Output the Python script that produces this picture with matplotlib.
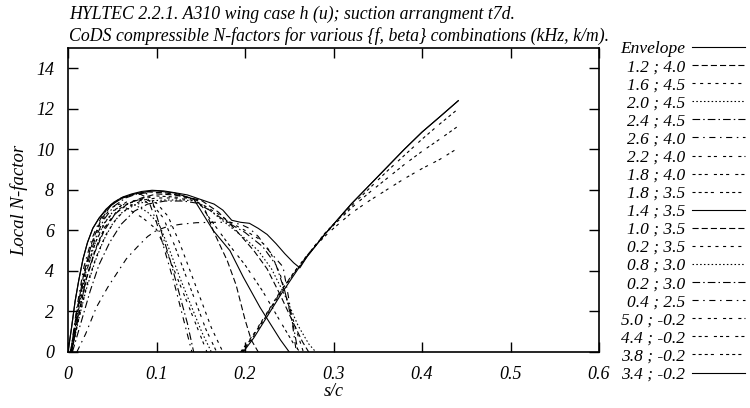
import matplotlib
matplotlib.use('Agg')
import matplotlib.pyplot as plt

plt.rcParams['font.family'] = ['Liberation Serif', 'DejaVu Serif']
plt.rcParams['font.style'] = 'italic'
plt.rcParams['lines.scale_dashes'] = False

# N-factor curves: (s/c, N)
env_s = [0, 0.004, 0.008, 0.012, 0.017, 0.022, 0.028, 0.035, 0.043, 0.052, 0.062, 0.072,
         0.083, 0.095, 0.108, 0.122, 0.135, 0.145, 0.155, 0.165, 0.175, 0.185, 0.195,
         0.205, 0.215, 0.225, 0.235, 0.245, 0.255, 0.262, 0.27, 0.28, 0.29, 0.3, 0.31,
         0.32, 0.34, 0.36, 0.38, 0.4, 0.42, 0.441]
env_n = [0, 1.2, 2.5, 3.5, 4.6, 5.4, 6.1, 6.6, 7.05, 7.4, 7.65, 7.8,
         7.92, 7.98, 7.95, 7.85, 7.75, 7.6, 7.45, 7.3, 7.0, 6.5, 6.4,
         6.35, 6.1, 5.8, 5.35, 4.85, 4.4, 4.15, 4.7, 5.25, 5.8, 6.3, 6.8,
         7.3, 8.2, 9.1, 10.0, 10.85, 11.6, 12.4]

f12_b40_s = [0.003, 0.01, 0.018, 0.027, 0.037, 0.048, 0.06, 0.075, 0.09, 0.11, 0.13, 0.145,
             0.155, 0.165, 0.18, 0.19, 0.2, 0.207, 0.215]
f12_b40_n = [0, 2.0, 3.9, 5.4, 6.5, 7.2, 7.6, 7.8, 7.9, 7.85, 7.7, 7.5,
             7.0, 5.9, 4.5, 3.3, 1.6, 0.6, 0]

f16_b45_s = [0.004, 0.013, 0.022, 0.033, 0.044, 0.056, 0.07, 0.085, 0.1, 0.113, 0.126,
             0.138, 0.15, 0.162, 0.175]
f16_b45_n = [0, 2.0, 3.8, 5.3, 6.3, 7.0, 7.4, 7.55, 7.35, 6.7, 5.4, 4.0, 2.6, 1.2, 0]

f20_b45_s = [0.003, 0.011, 0.02, 0.03, 0.04, 0.052, 0.064, 0.076, 0.09, 0.103, 0.115,
             0.127, 0.139, 0.151, 0.162]
f20_b45_n = [0, 2.0, 3.9, 5.3, 6.3, 7.0, 7.3, 7.25, 6.9, 6.3, 5.0, 3.6, 2.3, 1.0, 0]

f24_b45_s = [0.004, 0.012, 0.02, 0.03, 0.04, 0.052, 0.065, 0.078, 0.088, 0.095, 0.105,
             0.115, 0.125, 0.135, 0.142]
f24_b45_n = [0, 2.3, 4.1, 5.5, 6.5, 7.2, 7.6, 7.8, 7.85, 7.5, 6.0, 4.6, 3.0, 1.4, 0]

f26_b40_s = [0.003, 0.01, 0.018, 0.027, 0.037, 0.048, 0.06, 0.072, 0.082, 0.09, 0.1,
             0.11, 0.12, 0.13, 0.14]
f26_b40_n = [0, 2.2, 4.2, 5.6, 6.6, 7.25, 7.6, 7.75, 7.78, 7.6, 6.4, 4.9, 3.4, 1.7, 0]

f22_b40_s = [0.003, 0.01, 0.018, 0.027, 0.037, 0.048, 0.058, 0.07, 0.085, 0.1, 0.112,
             0.124, 0.136, 0.147, 0.157]
f22_b40_n = [0, 2.0, 3.9, 5.3, 6.4, 7.1, 7.3, 7.0, 6.6, 6.05, 4.9, 3.6, 2.3, 1.1, 0]

f18_b40_s = [0.003, 0.012, 0.021, 0.031, 0.042, 0.054, 0.066, 0.08, 0.095, 0.108, 0.12,
             0.132, 0.144, 0.156, 0.168]
f18_b40_n = [0, 2.1, 4.0, 5.4, 6.4, 7.05, 7.4, 7.5, 7.3, 6.6, 5.3, 3.9, 2.5, 1.1, 0]

f18_b35_s = [0.004, 0.012, 0.021, 0.031, 0.042, 0.055, 0.07, 0.085, 0.1, 0.12, 0.145,
             0.16, 0.18, 0.2, 0.22, 0.24, 0.255, 0.262]
f18_b35_n = [0, 1.9, 3.7, 5.1, 6.2, 6.9, 7.35, 7.6, 7.7, 7.65, 7.55,
             6.6, 5.4, 4.3, 3.0, 1.5, 0.4, 0]

f14_b35_s = [0, 0.004, 0.008, 0.012, 0.017, 0.022, 0.028, 0.035, 0.043, 0.052, 0.062,
             0.075, 0.09, 0.1, 0.12, 0.142, 0.164, 0.183, 0.198, 0.217, 0.24, 0.25]
f14_b35_n = [0, 1.2, 2.5, 3.5, 4.6, 5.4, 6.1, 6.6, 7.0, 7.35, 7.6,
             7.8, 7.92, 7.95, 7.85, 7.55, 6.0, 5.0, 3.7, 2.2, 0.6, 0]

f10_b35_s = [0.004, 0.012, 0.02, 0.03, 0.041, 0.053, 0.067, 0.083, 0.1, 0.12, 0.15,
             0.17, 0.19, 0.21, 0.225, 0.24, 0.255, 0.265, 0.272]
f10_b35_n = [0, 1.8, 3.5, 4.9, 6.0, 6.8, 7.3, 7.6, 7.8, 7.75, 7.5,
             6.9, 6.0, 5.0, 4.1, 2.8, 1.4, 0.5, 0]

f02_b35_s = [0.004, 0.013, 0.022, 0.032, 0.043, 0.055, 0.07, 0.085, 0.1, 0.12, 0.14,
             0.155, 0.17, 0.185, 0.2, 0.215, 0.228, 0.24, 0.25, 0.26, 0.266]
f02_b35_n = [0, 1.8, 3.4, 4.7, 5.8, 6.6, 7.2, 7.5, 7.6, 7.6, 7.5,
             7.2, 6.8, 6.35, 6.0, 5.6, 5.0, 3.8, 2.2, 0.8, 0]

f08_b30_s = [0.004, 0.012, 0.02, 0.03, 0.04, 0.05, 0.06, 0.075, 0.09, 0.11, 0.13, 0.145,
             0.16, 0.18, 0.2, 0.215, 0.23, 0.245, 0.26, 0.272, 0.28]
f08_b30_n = [0, 1.6, 3.0, 4.4, 5.5, 6.3, 6.85, 7.25, 7.45, 7.5, 7.5, 7.45,
             7.0, 6.3, 5.6, 5.0, 4.1, 2.8, 1.3, 0.4, 0]

f02_b30_s = [0.005, 0.015, 0.025, 0.035, 0.047, 0.06, 0.075, 0.09, 0.11, 0.13, 0.145,
             0.16, 0.18, 0.2, 0.22, 0.235, 0.245, 0.255, 0.26]
f02_b30_n = [0, 1.5, 3.0, 4.3, 5.4, 6.3, 6.95, 7.3, 7.45, 7.45, 7.35,
             7.0, 6.4, 5.9, 5.2, 4.3, 3.0, 1.2, 0]

f04_b25_s = [0.01, 0.02, 0.032, 0.045, 0.055, 0.066, 0.078, 0.09, 0.1, 0.113, 0.127,
             0.145, 0.165, 0.183, 0.195, 0.205, 0.215, 0.225, 0.235, 0.243, 0.25, 0.258]
f04_b25_n = [0, 0.9, 2.2, 3.2, 3.87, 4.6, 5.17, 5.7, 6.0, 6.2, 6.3,
             6.38, 6.4, 6.4, 6.3, 6.1, 5.7, 5.1, 4.6, 4.2, 2.5, 0]

f50_bm02_s = [0.195, 0.21, 0.22, 0.23, 0.24, 0.25, 0.26, 0.27, 0.28, 0.29, 0.3,
              0.32, 0.34, 0.36, 0.38, 0.4, 0.42, 0.437]
f50_bm02_n = [0, 0.9, 1.6, 2.3, 3.0, 3.6, 4.2, 4.75, 5.25, 5.7, 6.1,
              6.85, 7.45, 8.0, 8.55, 9.05, 9.5, 9.96]

f44_bm02_s = [0.196, 0.21, 0.22, 0.23, 0.24, 0.25, 0.26, 0.27, 0.28, 0.29, 0.3,
              0.32, 0.34, 0.36, 0.38, 0.4, 0.42, 0.441]
f44_bm02_n = [0, 0.85, 1.55, 2.25, 2.95, 3.6, 4.2, 4.75, 5.3, 5.8, 6.25,
              7.1, 7.85, 8.55, 9.25, 9.9, 10.5, 11.15]

f38_bm02_s = [0.197, 0.21, 0.22, 0.23, 0.24, 0.25, 0.26, 0.27, 0.28, 0.29, 0.3,
              0.32, 0.34, 0.36, 0.38, 0.4, 0.42, 0.441]
f38_bm02_n = [0, 0.8, 1.5, 2.2, 2.9, 3.55, 4.15, 4.75, 5.3, 5.85, 6.3,
              7.2, 8.05, 8.9, 9.7, 10.5, 11.25, 12.0]

f34_bm02_s = [0.198, 0.21, 0.22, 0.23, 0.24, 0.25, 0.26, 0.27, 0.28, 0.29, 0.3,
              0.31, 0.32, 0.34, 0.36, 0.38, 0.4, 0.42, 0.441]
f34_bm02_n = [0, 0.7, 1.4, 2.1, 2.8, 3.45, 4.1, 4.7, 5.25, 5.8, 6.3,
              6.8, 7.3, 8.2, 9.1, 10.0, 10.85, 11.6, 12.4]

labels = ['Envelope', '1.2 ; 4.0', '1.6 ; 4.5', '2.0 ; 4.5', '2.4 ; 4.5', '2.6 ; 4.0',
          '2.2 ; 4.0', '1.8 ; 4.0', '1.8 ; 3.5', '1.4 ; 3.5', '1.0 ; 3.5', '0.2 ; 3.5',
          '0.8 ; 3.0', '0.2 ; 3.0', '0.4 ; 2.5', '5.0 ; -0.2', '4.4 ; -0.2', '3.8 ; -0.2',
          '3.4 ; -0.2']
series = [(env_s, env_n), (f12_b40_s, f12_b40_n), (f16_b45_s, f16_b45_n),
          (f20_b45_s, f20_b45_n), (f24_b45_s, f24_b45_n), (f26_b40_s, f26_b40_n),
          (f22_b40_s, f22_b40_n), (f18_b40_s, f18_b40_n), (f18_b35_s, f18_b35_n),
          (f14_b35_s, f14_b35_n), (f10_b35_s, f10_b35_n), (f02_b35_s, f02_b35_n),
          (f08_b30_s, f08_b30_n), (f02_b30_s, f02_b30_n), (f04_b25_s, f04_b25_n),
          (f50_bm02_s, f50_bm02_n), (f44_bm02_s, f44_bm02_n), (f38_bm02_s, f38_bm02_n),
          (f34_bm02_s, f34_bm02_n)]

# gnuplot postscript dash types, cycled
u = 1.1
dash_types = [None, [4, 2], [2, 3], [1, 1.5], [5, 2, 1, 2], [4, 3, 1, 3],
              [2, 2, 2, 4], [2, 2, 2, 2, 2, 4], [2, 2, 2, 2, 2, 2, 2, 4]]

fig = plt.figure(figsize=(7.5, 4.08), dpi=100)
ax = fig.add_axes([68 / 750, 56 / 408, 531 / 750, 304 / 408])

for i, ((xs, ys), lab) in enumerate(zip(series, labels)):
    d = dash_types[i % 9]
    line, = ax.plot(xs, ys, color='black', lw=0.8, label=lab)
    if d is not None:
        line.set_dashes([v * u for v in d])

ax.set_xlim(0, 0.6)
ax.set_ylim(0, 15)
ax.set_xticks([0, 0.1, 0.2, 0.3, 0.4, 0.5, 0.6])
ax.set_xticklabels(['0', '0.1', '0.2', '0.3', '0.4', '0.5', '0.6'])
ax.set_yticks([0, 2, 4, 6, 8, 10, 12, 14])
ax.tick_params(direction='in', top=True, right=True, length=7, width=1,
               labelsize=13, pad=10)
for sp in ax.spines.values():
    sp.set_linewidth(1.2)

ax.set_xlabel('s/c', fontsize=13, labelpad=0)
ax.set_ylabel('Local N-factor', fontsize=13.5, labelpad=6)

fig.text(69 / 750, 1 - 19 / 408, 'HYLTEC 2.2.1. A310 wing case h (u); suction arrangment t7d.',
         fontsize=12.8, ha='left', va='baseline')
fig.text(69 / 750, 1 - 41 / 408,
         'CoDS compressible N-factors for various {f, beta} combinations (kHz, k/m).',
         fontsize=12.8, ha='left', va='baseline')

fig.legend(loc='upper right', bbox_to_anchor=(745 / 750, 1 - 41 / 408), frameon=False,
           markerfirst=False, fontsize=12.5, handlelength=3.05, handletextpad=0.4,
           labelspacing=0.111, borderpad=0, borderaxespad=0)

fig.savefig('out.png', dpi=100)
